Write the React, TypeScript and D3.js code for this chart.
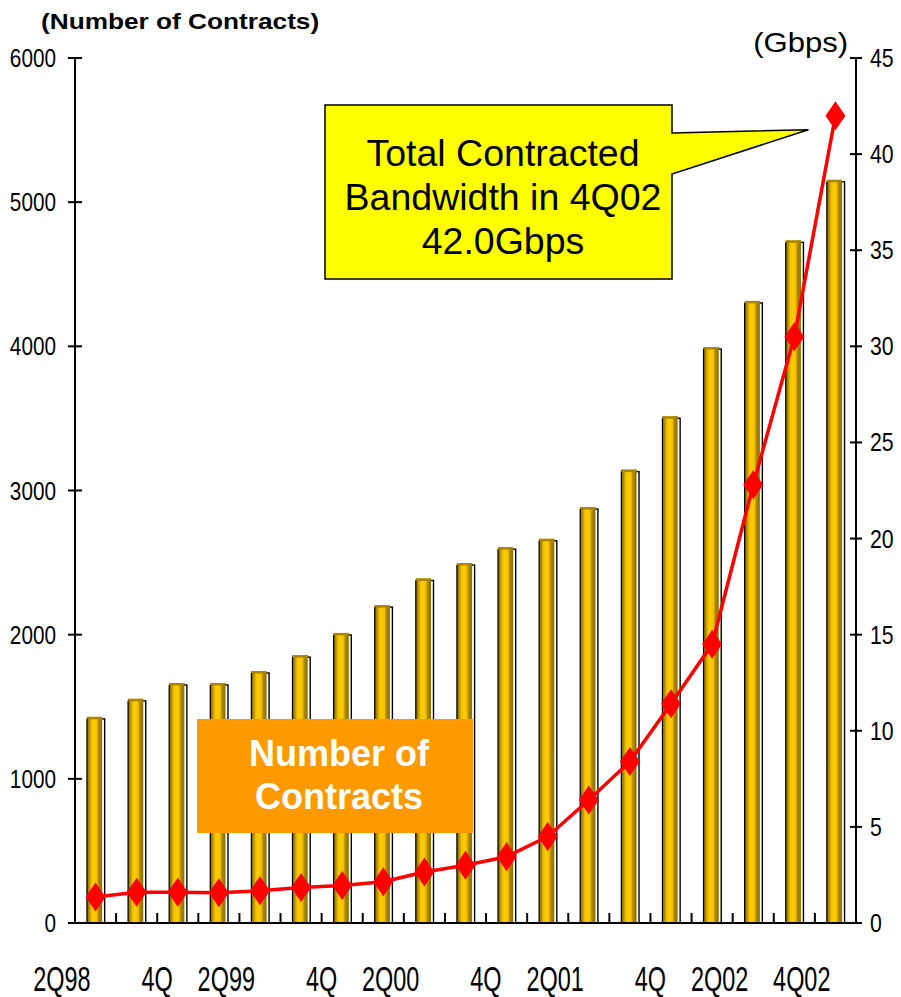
import React from "react";
import * as d3 from "d3";

// Quarterly series, 2Q98 .. 4Q02
const quarters = [
  "2Q98", "3Q98", "4Q98",
  "1Q99", "2Q99", "3Q99", "4Q99",
  "1Q00", "2Q00", "3Q00", "4Q00",
  "1Q01", "2Q01", "3Q01", "4Q01",
  "1Q02", "2Q02", "3Q02", "4Q02",
];

// Number of contracts (left axis, bars)
const contracts = [
  1430, 1555, 1665, 1665, 1748, 1858, 2012, 2205, 2390, 2497, 2607, 2665,
  2885, 3145, 3515, 3995, 4315, 4735, 5155,
];

// Total contracted bandwidth in Gbps (right axis, line)
const bandwidth = [
  1.35, 1.6, 1.6, 1.58, 1.68, 1.85, 1.95, 2.15, 2.65, 3.0, 3.45, 4.5, 6.4,
  8.4, 11.4, 14.5, 22.8, 30.5, 42.0,
];

const leftTicks = [0, 1000, 2000, 3000, 4000, 5000, 6000];
const rightTicks = [0, 5, 10, 15, 20, 25, 30, 35, 40, 45];

// Category axis labels: which quarter gets a label, and its text
const xLabels = [
  { q: "2Q98", text: "2Q98" },
  { q: "4Q98", text: "4Q" },
  { q: "2Q99", text: "2Q99" },
  { q: "4Q99", text: "4Q" },
  { q: "2Q00", text: "2Q00" },
  { q: "4Q00", text: "4Q" },
  { q: "2Q01", text: "2Q01" },
  { q: "4Q01", text: "4Q" },
  { q: "2Q02", text: "2Q02" },
  { q: "4Q02", text: "4Q02" },
];

const calloutLines = ["Total Contracted", "Bandwidth in 4Q02", "42.0Gbps"];
const legendLines = ["Number of", "Contracts"];

const W = 901;
const H = 997;
const LEFT = 75;
const RIGHT = 856;
const BASE = 923;
const TOP = 58;
const FONT = "'Liberation Sans', Arial, Helvetica, sans-serif";

export default function App() {
  const x = d3
    .scaleBand<string>()
    .domain(quarters)
    .range([LEFT, RIGHT])
    .paddingInner(0.63)
    .paddingOuter(0.315);
  const yL = d3.scaleLinear().domain([0, 6000]).range([BASE, TOP]);
  const yR = d3.scaleLinear().domain([0, 45]).range([BASE, TOP]);
  const bw = x.bandwidth();
  const cx = (q: string) => (x(q) as number) + bw / 2;

  const line = d3
    .line<number>()
    .x((_, i) => cx(quarters[i]))
    .y((v) => yR(v));

  const lastQ = quarters[quarters.length - 1];
  const lastPt: [number, number] = [cx(lastQ), yR(bandwidth[bandwidth.length - 1])];

  // callout box with pointer toward the 4Q02 point
  const bx0 = 325, bx1 = 672, by0 = 105, by1 = 279;
  const tipX = lastPt[0] - 27;
  const tipY = lastPt[1] + 14;
  const calloutPath = `M${bx0},${by0} L${bx1},${by0} L${bx1},${by0 + 28} L${tipX},${tipY} L${bx1},${by0 + 69} L${bx1},${by1} L${bx0},${by1} Z`;

  const boundaries = quarters.slice(1).map((q) => x(q) as number - (x.step() - bw) / 2);

  return (
    <div style={{ position: "absolute", left: 0, top: 0 }}>
      <svg width={W} height={H} style={{ display: "block", background: "#fff" }}>
        <defs>
          <linearGradient id="cyl" x1="0" x2="1" y1="0" y2="0">
            <stop offset="0%" stopColor="#7a6000" />
            <stop offset="14%" stopColor="#b08a00" />
            <stop offset="30%" stopColor="#f2c200" />
            <stop offset="48%" stopColor="#ffcc00" />
            <stop offset="66%" stopColor="#f0bf00" />
            <stop offset="76%" stopColor="#b08a00" />
            <stop offset="100%" stopColor="#8c6e00" />
          </linearGradient>
        </defs>

        {/* bars: outline frame behind a cylinder-shaded column */}
        {quarters.map((q, i) => {
          const x0 = x(q) as number;
          const yt = yL(contracts[i]);
          return (
            <g key={q}>
              <rect
                x={x0 + 0.5}
                y={yt + 2}
                width={bw + 1}
                height={BASE - yt - 2}
                fill="#fff"
                stroke="#000"
                strokeWidth={1.4}
              />
              <rect x={x0 - 1} y={yt} width={bw} height={BASE - yt} fill="url(#cyl)" />
              <rect x={x0 - 1} y={yt} width={bw} height={2.5} fill="#a88600" />
              <line x1={x0 - 1} x2={x0 - 1} y1={yt + 2} y2={BASE} stroke="#000" strokeWidth={1.2} />
            </g>
          );
        })}

        {/* bandwidth line */}
        <path d={line(bandwidth) || ""} fill="none" stroke="#ff0000" strokeWidth={3.5} strokeLinejoin="round" />
        {bandwidth.map((v, i) => (
          <path
            key={i}
            transform={`translate(${cx(quarters[i])},${yR(v)})`}
            d="M0,-14.5 L10,0 L0,14.5 L-10,0 Z"
            fill="#ff0000"
          />
        ))}

        {/* axes */}
        <g stroke="#000" strokeWidth={2}>
          <line x1={LEFT} x2={LEFT} y1={TOP} y2={BASE} />
          <line x1={RIGHT} x2={RIGHT} y1={TOP} y2={BASE} />
          <line x1={LEFT - 6} x2={RIGHT} y1={BASE} y2={BASE} />
          {leftTicks.map((t) => (
            <line key={t} x1={LEFT - 7} x2={LEFT + 7} y1={yL(t)} y2={yL(t)} />
          ))}
          {rightTicks.map((t) => (
            <line key={t} x1={RIGHT - 6} x2={RIGHT + 6} y1={yR(t)} y2={yR(t)} />
          ))}
          {boundaries.map((b, i) => (
            <line key={i} x1={b} x2={b} y1={BASE - 10} y2={BASE} />
          ))}
        </g>

        <g fontFamily={FONT} fontSize={25} fill="#000">
          {leftTicks.map((t) => (
            <text
              key={t}
              transform={`translate(${LEFT - 19},${yL(t) + 9}) scale(0.83,1)`}
              textAnchor="end"
            >
              {t}
            </text>
          ))}
          {rightTicks.map((t) => (
            <text key={t} transform={`translate(${RIGHT + 14},${yR(t) + 9}) scale(0.85,1)`}>
              {t}
            </text>
          ))}
        </g>

        <g fontFamily={FONT} fontSize={35} fill="#000">
          {xLabels.map((l) => (
            <text
              key={l.q}
              transform={`translate(${cx(l.q) - 5},${991}) scale(0.67,1)`}
              textAnchor="end"
            >
              {l.text}
            </text>
          ))}
        </g>

        {/* axis titles */}
        <text
          transform="translate(41,29) scale(1.22,1)"
          fontFamily={FONT}
          fontWeight="bold"
          fontSize={21.5}
          fill="#000"
        >
          (Number of Contracts)
        </text>
        <text
          transform="translate(848,52) scale(1.15,1)"
          fontFamily={FONT}
          fontSize={27}
          textAnchor="end"
          fill="#000"
        >
          (Gbps)
        </text>

        {/* series label box */}
        <rect x={197} y={719} width={276} height={114} fill="#ff9900" />
        <g fontFamily={FONT} fontWeight="bold" fontSize={36} fill="#fff" textAnchor="middle">
          {legendLines.map((s, i) => (
            <text key={s} x={339} y={766 + i * 43}>
              {s}
            </text>
          ))}
        </g>

        {/* callout */}
        <path d={calloutPath} fill="#ffff00" stroke="#000" strokeWidth={1.5} strokeLinejoin="miter" />
        <g fontFamily={FONT} fontSize={37.5} fill="#000" textAnchor="middle">
          {calloutLines.map((s, i) => (
            <text key={s} x={503} y={166 + i * 44}>
              {s}
            </text>
          ))}
        </g>
      </svg>
    </div>
  );
}
